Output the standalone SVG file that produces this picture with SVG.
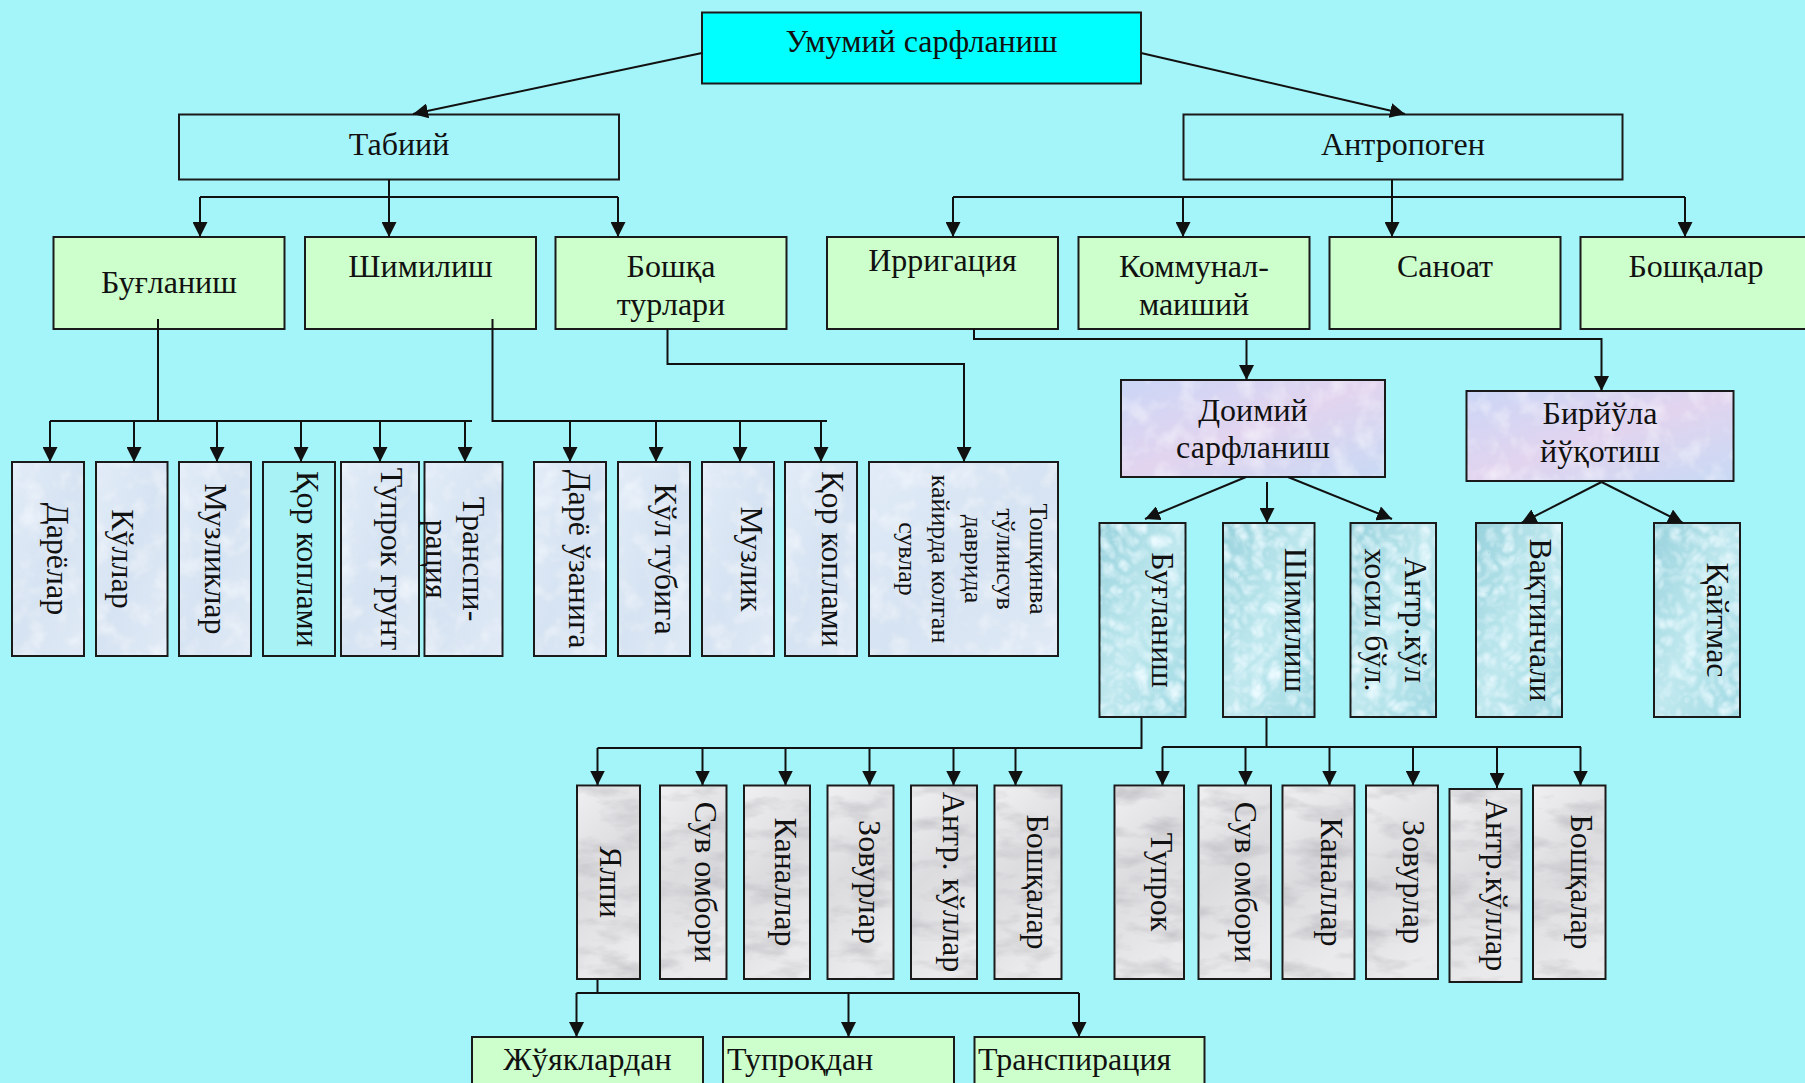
<svg xmlns="http://www.w3.org/2000/svg" width="1805" height="1083" viewBox="0 0 1805 1083">
<defs>
<style>
text{font-family:"Liberation Serif","Times New Roman",serif;fill:#111;}
.h{font-size:32px;text-anchor:middle;}
.hl{font-size:32px;text-anchor:start;}
.v{font-size:32px;text-anchor:middle;}
.vs{font-size:26px;text-anchor:middle;}
.box{stroke:#1a1a1a;stroke-width:2;}
.top{fill:#00FFFF;}
.plain{fill:none;}
.green{fill:#CCFFCC;}
.paper{fill:url(#gPaper);filter:url(#txL);}
.cyan{fill:#A8F2F6;}
.lav{fill:url(#gLav);filter:url(#txL);}
.drop{fill:url(#gDrop);filter:url(#txD);}
.marble{fill:url(#gMarble);filter:url(#txM);}
.c{fill:none;stroke:#111;stroke-width:2;}
.a{marker-end:url(#ah);}
</style>
<linearGradient id="gPaper" x1="0" y1="0" x2="1" y2="1">
<stop offset="0" stop-color="#E2ECF8"/><stop offset="0.5" stop-color="#D6E3F2"/><stop offset="1" stop-color="#E0EAF6"/>
</linearGradient>
<linearGradient id="gLav" x1="0" y1="0" x2="1" y2="1">
<stop offset="0" stop-color="#CBD6F6"/><stop offset="0.5" stop-color="#E2D4EF"/><stop offset="1" stop-color="#C8D9F4"/>
</linearGradient>
<linearGradient id="gDrop" x1="0" y1="0" x2="1" y2="1">
<stop offset="0" stop-color="#98D2DD"/><stop offset="0.5" stop-color="#BFE8EE"/><stop offset="1" stop-color="#A2DAE4"/>
</linearGradient>
<linearGradient id="gMarble" x1="0" y1="0" x2="0.3" y2="1">
<stop offset="0" stop-color="#F0F0F2"/><stop offset="0.5" stop-color="#DCDCDF"/><stop offset="1" stop-color="#EAEAEC"/>
</linearGradient>
<filter id="txL" color-interpolation-filters="sRGB">
<feTurbulence type="fractalNoise" baseFrequency="0.045" numOctaves="3" seed="4" result="t"/>
<feColorMatrix in="t" type="matrix" values="0 0 0 0 1  0 0 0 0 1  0 0 0 0 1  1.1 0 0 0 -0.5" result="w"/>
<feMorphology in="SourceAlpha" operator="erode" radius="2" result="inner"/>
<feComposite in="w" in2="inner" operator="in" result="wi"/>
<feMerge><feMergeNode in="SourceGraphic"/><feMergeNode in="wi"/></feMerge>
</filter>
<filter id="txD" color-interpolation-filters="sRGB">
<feTurbulence type="turbulence" baseFrequency="0.06" numOctaves="2" seed="9" result="t"/>
<feColorMatrix in="t" type="matrix" values="0 0 0 0 0.92  0 0 0 0 0.98  0 0 0 0 1  1.6 0 0 0 -0.2" result="w"/>
<feMorphology in="SourceAlpha" operator="erode" radius="2" result="inner"/>
<feComposite in="w" in2="inner" operator="in" result="wi"/>
<feMerge><feMergeNode in="SourceGraphic"/><feMergeNode in="wi"/></feMerge>
</filter>
<filter id="txM" color-interpolation-filters="sRGB">
<feTurbulence type="fractalNoise" baseFrequency="0.02 0.05" numOctaves="4" seed="7" result="t"/>
<feColorMatrix in="t" type="matrix" values="0 0 0 0 0.7  0 0 0 0 0.7  0 0 0 0 0.72  1.5 0 0 0 -0.72" result="g"/>
<feMorphology in="SourceAlpha" operator="erode" radius="2" result="inner"/>
<feComposite in="g" in2="inner" operator="in" result="gi"/>
<feMerge><feMergeNode in="SourceGraphic"/><feMergeNode in="gi"/></feMerge>
</filter>
<marker id="ah" markerUnits="userSpaceOnUse" markerWidth="15" markerHeight="15" refX="15" refY="7.5" orient="auto" viewBox="0 0 15 15">
<path d="M0,0 L15,7.5 L0,15 z" fill="#111"/>
</marker>
</defs>
<rect width="1805" height="1083" fill="#A4F5FA"/>

<g id="n-umumiy"><rect class="box top" x="702" y="12.5" width="439" height="71"/><text class="h" x="921.5" y="52">Умумий сарфланиш</text></g>
<g id="n-tabiiy"><rect class="box plain" x="179" y="114.5" width="440" height="65"/><text class="h" x="399" y="155">Табиий</text></g>
<g id="n-antropogen"><rect class="box plain" x="1183.5" y="114.5" width="439" height="65"/><text class="h" x="1403" y="155">Антропоген</text></g>

<g id="n-buglanish"><rect class="box green" x="53.5" y="237" width="231" height="92"/><text class="h" x="169" y="293">Буғланиш</text></g>
<g id="n-shimilish"><rect class="box green" x="305" y="237" width="231" height="92"/><text class="h" x="420.5" y="277">Шимилиш</text></g>
<g id="n-boshqa"><rect class="box green" x="555.5" y="237" width="231" height="92"/><text class="h" x="671" y="277">Бошқа</text><text class="h" x="671" y="315">турлари</text></g>
<g id="n-irrigatsiya"><rect class="box green" x="827" y="237" width="231" height="92"/><text class="h" x="942.5" y="271">Ирригация</text></g>
<g id="n-kommunal"><rect class="box green" x="1078.5" y="237" width="231" height="92"/><text class="h" x="1194" y="277">Коммунал-</text><text class="h" x="1194" y="315">маиший</text></g>
<g id="n-sanoat"><rect class="box green" x="1329.5" y="237" width="231" height="92"/><text class="h" x="1445" y="277">Саноат</text></g>
<g id="n-boshqalar"><rect class="box green" x="1580.5" y="237" width="231" height="92"/><text class="h" x="1696" y="277">Бошқалар</text></g>

<g id="n-daryolar"><rect class="box paper" x="12" y="462" width="72" height="194"/><text class="v" transform="translate(47,559) rotate(90)">Дарёлар</text></g>
<g id="n-kullar"><rect class="box paper" x="96" y="462" width="71.5" height="194"/><text class="v" transform="translate(112,559) rotate(90)">Кўллар</text></g>
<g id="n-muzliklar"><rect class="box paper" x="179" y="462" width="72" height="194"/><text class="v" transform="translate(205,559) rotate(90)">Музликлар</text></g>
<g id="n-qor1"><rect class="box cyan" x="263" y="462" width="72" height="194"/><text class="v" transform="translate(297,559) rotate(90)">Қор коплами</text></g>
<g id="n-tuproq-grunt"><rect class="box paper" x="341" y="462" width="78" height="194"/><text class="v" transform="translate(381,559) rotate(90)">Тупрок грунт</text></g>
<g id="n-transpiratsiya1"><rect class="box paper" x="424.5" y="462" width="78" height="194"/><text class="v" transform="translate(463,559) rotate(90)"><tspan x="0" y="0">Транспи-</tspan><tspan x="0" y="37">рация</tspan></text></g>
<g id="n-darye-uzaniga"><rect class="box paper" x="534" y="462" width="72" height="194"/><text class="v" transform="translate(569,559) rotate(90)">Дарё ўзанига</text></g>
<g id="n-kul-tubiga"><rect class="box paper" x="618" y="462" width="72" height="194"/><text class="v" transform="translate(655,559) rotate(90)">Кўл тубига</text></g>
<g id="n-muzlik"><rect class="box paper" x="702" y="462" width="72" height="194"/><text class="v" transform="translate(741,559) rotate(90)">Музлик</text></g>
<g id="n-qor2"><rect class="box paper" x="785" y="462" width="72" height="194"/><text class="v" transform="translate(822,559) rotate(90)">Қор коплами</text></g>
<g id="n-toshqinva"><rect class="box paper" x="869" y="462" width="189" height="194"/><text class="vs" transform="translate(1030,559) rotate(90)"><tspan x="0" y="0">Тошқинва</tspan><tspan x="0" y="32.75">тўлинсув</tspan><tspan x="0" y="65.5">даврида</tspan><tspan x="0" y="98.25">кайирда колган</tspan><tspan x="0" y="131">сувлар</tspan></text></g>

<g id="n-doimiy"><rect class="box lav" x="1121" y="380" width="264" height="97"/><text class="h" x="1253" y="421">Доимий</text><text class="h" x="1253" y="458">сарфланиш</text></g>
<g id="n-biriyula"><rect class="box lav" x="1466.5" y="391" width="267" height="90"/><text class="h" x="1600" y="424">Бирйўла</text><text class="h" x="1600" y="462">йўқотиш</text></g>

<g id="n-buglanish2"><rect class="box drop" x="1099.5" y="523" width="86" height="194"/><text class="v" transform="translate(1152,620) rotate(90)">Буғланиш</text></g>
<g id="n-shimilish2"><rect class="box drop" x="1223" y="523" width="91.5" height="194"/><text class="v" transform="translate(1285,620) rotate(90)">Шимилиш</text></g>
<g id="n-antr-kul"><rect class="box drop" x="1350.5" y="523" width="85.5" height="194"/><text class="v" transform="translate(1405,620) rotate(90)"><tspan x="0" y="0">Антр.кўл</tspan><tspan x="0" y="40">хосил бўл.</tspan></text></g>
<g id="n-vaqtinchali"><rect class="box drop" x="1476" y="523" width="86" height="194"/><text class="v" transform="translate(1530,620) rotate(90)">Вақтинчали</text></g>
<g id="n-qaytmas"><rect class="box drop" x="1654" y="523" width="86" height="194"/><text class="v" transform="translate(1707,620) rotate(90)">Қайтмас</text></g>

<g id="n-yalpi"><rect class="box marble" x="577" y="785.5" width="63" height="193.5"/><text class="v" transform="translate(600,882) rotate(90)">Ялпи</text></g>
<g id="n-suv-ombori1"><rect class="box marble" x="660" y="785.5" width="66.5" height="193.5"/><text class="v" transform="translate(695,882) rotate(90)">Сув омбори</text></g>
<g id="n-kanallar1"><rect class="box marble" x="744" y="785.5" width="66" height="193.5"/><text class="v" transform="translate(775,882) rotate(90)">Каналлар</text></g>
<g id="n-zovurlar1"><rect class="box marble" x="827.5" y="785.5" width="66" height="193.5"/><text class="v" transform="translate(859,882) rotate(90)">Зовурлар</text></g>
<g id="n-antr-kullar1"><rect class="box marble" x="911" y="785.5" width="66" height="193.5"/><text class="v" transform="translate(943,882) rotate(90)">Антр. кўллар</text></g>
<g id="n-boshqalar1"><rect class="box marble" x="994.5" y="785.5" width="67" height="193.5"/><text class="v" transform="translate(1027,882) rotate(90)">Бошқалар</text></g>
<g id="n-tuproq"><rect class="box marble" x="1114.5" y="785.5" width="69.5" height="193.5"/><text class="v" transform="translate(1151,882) rotate(90)">Тупрок</text></g>
<g id="n-suv-ombori2"><rect class="box marble" x="1198.5" y="785.5" width="72.5" height="193.5"/><text class="v" transform="translate(1235,882) rotate(90)">Сув омбори</text></g>
<g id="n-kanallar2"><rect class="box marble" x="1282.5" y="785.5" width="72" height="193.5"/><text class="v" transform="translate(1321,882) rotate(90)">Каналлар</text></g>
<g id="n-zovurlar2"><rect class="box marble" x="1366" y="785.5" width="72" height="193.5"/><text class="v" transform="translate(1403,882) rotate(90)">Зовурлар</text></g>
<g id="n-antr-kullar2"><rect class="box marble" x="1449.5" y="789" width="72" height="193"/><text class="v" transform="translate(1486,885) rotate(90)">Антр.кўллар</text></g>
<g id="n-boshqalar2"><rect class="box marble" x="1533" y="785.5" width="72.5" height="193.5"/><text class="v" transform="translate(1571,882) rotate(90)">Бошқалар</text></g>

<g id="n-juyaklardan"><rect class="box green" x="472" y="1037" width="231" height="60"/><text class="h" x="587.5" y="1070">Жўяклардан</text></g>
<g id="n-tuproqdan"><rect class="box green" x="723" y="1037" width="231" height="60"/><text class="hl" x="727" y="1070">Тупроқдан</text></g>
<g id="n-transpiratsiya2"><rect class="box green" x="974.5" y="1037" width="230" height="60"/><text class="hl" x="978" y="1070">Транспирация</text></g>

<g id="connectors">
<path class="c a" d="M702,53 L413,114"/>
<path class="c a" d="M1141,53 L1405,114"/>
<path class="c" d="M389,179 L389,197 M200,197 L618,197"/>
<path class="c a" d="M389,197 L389,237"/>
<path class="c a" d="M200,197 L200,237"/>
<path class="c a" d="M618,197 L618,237"/>
<path class="c" d="M1392,179 L1392,197 M953,197 L1685,197"/>
<path class="c a" d="M1392,197 L1392,237"/>
<path class="c a" d="M953,197 L953,237"/>
<path class="c a" d="M1183,197 L1183,237"/>
<path class="c a" d="M1685,197 L1685,237"/>
<path class="c" d="M158,319 L158,421 M50,421 L472,421"/>
<path class="c a" d="M50,421 L50,462"/>
<path class="c a" d="M134,421 L134,462"/>
<path class="c a" d="M217,421 L217,462"/>
<path class="c a" d="M301,421 L301,462"/>
<path class="c a" d="M380,421 L380,462"/>
<path class="c a" d="M465,421 L465,462"/>
<path class="c" d="M492.5,319 L492.5,421 L827,421"/>
<path class="c a" d="M570,421 L570,462"/>
<path class="c a" d="M656,421 L656,462"/>
<path class="c a" d="M740,421 L740,462"/>
<path class="c a" d="M821,421 L821,462"/>
<path class="c a" d="M667.5,329 L667.5,364 L964,364 L964,462"/>
<path class="c a" d="M974,329 L974,339 L1601.5,339 L1601.5,391"/>
<path class="c a" d="M1246.5,339 L1246.5,380"/>
<path class="c a" d="M1246,477 L1145,519"/>
<path class="c a" d="M1267,482 L1267,523"/>
<path class="c a" d="M1288,477 L1392,519"/>
<path class="c a" d="M1601.5,482 L1521.5,523"/>
<path class="c a" d="M1601.5,482 L1683,523"/>
<path class="c" d="M1141.5,717 L1141.5,748 L597.5,748"/>
<path class="c a" d="M597.5,748 L597.5,785.5"/>
<path class="c a" d="M702.5,748 L702.5,785.5"/>
<path class="c a" d="M785.5,748 L785.5,785.5"/>
<path class="c a" d="M869.5,748 L869.5,785.5"/>
<path class="c a" d="M953.5,748 L953.5,785.5"/>
<path class="c a" d="M1015.5,748 L1015.5,785.5"/>
<path class="c" d="M1266.5,717 L1266.5,747 M1162.5,747 L1581,747"/>
<path class="c a" d="M1162.5,747 L1162.5,785.5"/>
<path class="c a" d="M1245.5,747 L1245.5,785.5"/>
<path class="c a" d="M1329.5,747 L1329.5,785.5"/>
<path class="c a" d="M1413,747 L1413,785.5"/>
<path class="c a" d="M1497,747 L1497,788"/>
<path class="c a" d="M1580.5,747 L1580.5,785.5"/>
<path class="c" d="M597.5,979 L597.5,993 M576.5,993 L1079,993"/>
<path class="c a" d="M576.5,993 L576.5,1037"/>
<path class="c a" d="M848.5,993 L848.5,1037"/>
<path class="c a" d="M1079,993 L1079,1037"/>
</g>
</svg>
